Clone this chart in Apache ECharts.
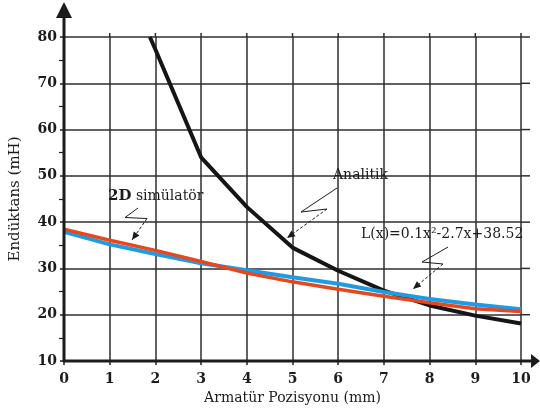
<!DOCTYPE html>
<html>
<head>
<meta charset="utf-8">
<script src="https://cdn.jsdelivr.net/npm/echarts@6/dist/echarts.min.js"></script>
<style>
  html, body { margin: 0; padding: 0; background: #ffffff; }
  #chart { width: 540px; height: 412px; }
</style>
</head>
<body>
<div id="chart"></div>
<script>
// Armature position (mm) along the x axis
const positions = [0, 1, 2, 3, 4, 5, 6, 7, 8, 9, 10];

// Analytical inductance (mH); curve enters the plot at the 80 mH line
const analyticX = [1.88, 2, 3, 4, 5, 6, 7, 8, 9, 10];
const analyticY = [80, 77.3, 54, 43.3, 34.5, 29.5, 25.2, 22.0, 19.8, 18.1];

// 2D simulator inductance (mH)
const simulatorY = [38.5, 36.1, 33.9, 31.5, 29.0, 27.1, 25.5, 24.0, 22.6, 21.3, 20.7];

// Fitted polynomial L(x) = 0.1x² - 2.7x + 38.52, as plotted (mH)
const fitY = [37.9, 35.2, 33.1, 31.1, 29.6, 28.1, 26.7, 24.9, 23.4, 22.2, 21.2];

// Axis tick values
const xTicks = [0, 1, 2, 3, 4, 5, 6, 7, 8, 9, 10];
const yTicks = [10, 20, 30, 40, 50, 60, 70, 80];

const SERIF = '"DejaVu Serif", "Liberation Serif", serif';
const INK = '#1c1c1c';
const GRID_INK = '#2e2e2e';

const chart = echarts.init(document.getElementById('chart'));

const pairs = (xs, ys) => xs.map((x, i) => [x, ys[i]]);

chart.setOption({
  animation: false,
  backgroundColor: '#ffffff',
  grid: { left: 60, right: 19, top: 37, bottom: 51 },
  xAxis: {
    type: 'value',
    min: 0, max: 10, interval: 1,
    axisLine: { show: false },
    axisTick: { show: true, length: 4, lineStyle: { color: INK, width: 1.5 } },
    axisLabel: { color: INK, fontFamily: SERIF, fontWeight: 'bold', fontSize: 14, margin: 11 },
    splitLine: { show: true, lineStyle: { color: GRID_INK, width: 1.5 } },
    name: 'Armatür Pozisyonu (mm)',
    nameLocation: 'middle',
    nameGap: 29,
    nameTextStyle: { color: INK, fontFamily: SERIF, fontSize: 14 }
  },
  yAxis: {
    type: 'value',
    min: 10, max: 80, interval: 10,
    axisLine: { show: false },
    axisTick: { show: true, length: 4, lineStyle: { color: INK, width: 1.5 } },
    minorTick: { show: true, splitNumber: 2, length: 5, lineStyle: { color: INK, width: 1.2 } },
    axisLabel: { color: INK, fontFamily: SERIF, fontWeight: 'bold', fontSize: 14, margin: 7 },
    splitLine: { show: true, lineStyle: { color: GRID_INK, width: 1.5 } },
    name: 'Endüktans (mH)',
    nameLocation: 'middle',
    nameGap: 41,
    nameTextStyle: { color: INK, fontFamily: SERIF, fontSize: 15 }
  },
  series: [
    {
      name: 'Analitik',
      type: 'line',
      data: pairs(analyticX, analyticY),
      showSymbol: false,
      lineStyle: { color: '#151515', width: 4 },
      z: 3
    },
    {
      name: 'L(x)',
      type: 'line',
      data: pairs(positions, fitY),
      showSymbol: false,
      lineStyle: { color: '#1f9be4', width: 4 },
      z: 4
    },
    {
      name: '2D simülatör',
      type: 'line',
      data: pairs(positions, simulatorY),
      showSymbol: false,
      lineStyle: { color: '#e8461c', width: 3.5 },
      z: 5
    }
  ]
});

// Axis arrows, grid overshoot and callout annotations
function px(x, y) { return chart.convertToPixel({ gridIndex: 0 }, [x, y]); }

const origin = px(0, 10);
const rightEnd = px(10, 10);
const graphics = [];

// grid lines run slightly past the last ticks
xTicks.forEach(t => {
  const p = px(t, 80);
  graphics.push({ type: 'line', shape: { x1: p[0], y1: p[1], x2: p[0], y2: p[1] - 4 },
    style: { stroke: GRID_INK, lineWidth: 1.5 }, z: 1 });
});
yTicks.forEach(t => {
  const p = px(10, t);
  graphics.push({ type: 'line', shape: { x1: p[0], y1: p[1], x2: p[0] + 9, y2: p[1] },
    style: { stroke: GRID_INK, lineWidth: 1.5 }, z: 1 });
});

// y axis with arrow
graphics.push({ type: 'line', shape: { x1: origin[0], y1: origin[1] + 1, x2: origin[0], y2: 16 },
  style: { stroke: INK, lineWidth: 3 }, z: 10 });
graphics.push({ type: 'polygon', shape: { points: [[origin[0], 2], [origin[0] - 8, 18], [origin[0] + 8, 18]] },
  style: { fill: INK }, z: 10 });
// x axis with arrow
graphics.push({ type: 'line', shape: { x1: origin[0] - 1, y1: origin[1], x2: rightEnd[0] + 12, y2: origin[1] },
  style: { stroke: INK, lineWidth: 3 }, z: 10 });
graphics.push({ type: 'polygon', shape: { points: [[rightEnd[0] + 19, origin[1]], [rightEnd[0] + 10, origin[1] - 7], [rightEnd[0] + 10, origin[1] + 7]] },
  style: { fill: INK }, z: 10 });

// Callout: zigzag leader ending in a dashed arrow
function callout(p1, p2, p3, tip) {
  graphics.push({ type: 'polyline', shape: { points: [p1, p2, p3] },
    style: { stroke: INK, lineWidth: 1, fill: null }, z: 12 });
  graphics.push({ type: 'line', shape: { x1: p3[0], y1: p3[1], x2: tip[0], y2: tip[1] },
    style: { stroke: INK, lineWidth: 1, lineDash: [3, 2] }, z: 12 });
  const ang = Math.atan2(tip[1] - p3[1], tip[0] - p3[0]);
  const L = 8, W = 3.5;
  const bx = tip[0] - L * Math.cos(ang), by = tip[1] - L * Math.sin(ang);
  graphics.push({ type: 'polygon', shape: { points: [
    tip,
    [bx + W * Math.sin(ang), by - W * Math.cos(ang)],
    [bx - W * Math.sin(ang), by + W * Math.cos(ang)]
  ] }, style: { fill: INK }, z: 12 });
}

callout([138, 208], [125, 217.5], [147, 218.5], [132, 240]);
callout([337, 188], [301, 212], [327, 209], [287, 238]);
callout([448, 247], [422, 262], [443, 264], [413, 289]);

graphics.push({ type: 'text', x: 108, y: 196, z: 12,
  style: { text: '{b|2D} simülatör', rich: { b: { fontWeight: 'bold', fontSize: 15, fontFamily: SERIF, fill: INK } },
    font: '14px ' + SERIF, fill: INK, verticalAlign: 'middle', textVerticalAlign: 'middle' } });
graphics.push({ type: 'text', x: 333, y: 175, z: 12,
  style: { text: 'Analitik', font: '14px ' + SERIF, fill: INK, verticalAlign: 'middle', textVerticalAlign: 'middle' } });
graphics.push({ type: 'text', x: 361, y: 234, z: 12,
  style: { text: 'L(x)=0.1x²-2.7x+38.52', font: '14px ' + SERIF, fill: INK, verticalAlign: 'middle', textVerticalAlign: 'middle' } });

chart.setOption({ graphic: graphics });
</script>
</body>
</html>
